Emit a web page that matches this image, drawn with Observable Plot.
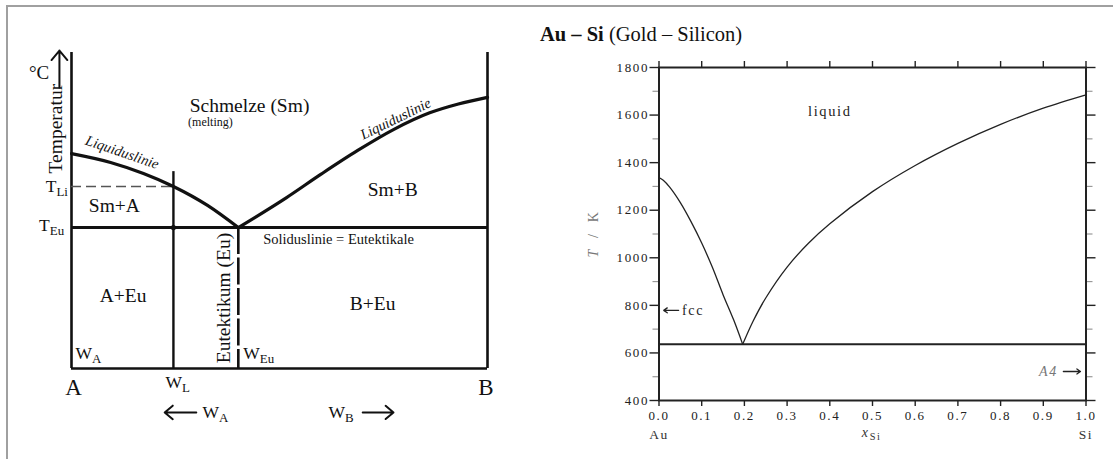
<!DOCTYPE html>
<html>
<head>
<meta charset="utf-8">
<script src="https://cdn.jsdelivr.net/npm/d3@7"></script>
<script src="https://cdn.jsdelivr.net/npm/@observablehq/plot@0.6"></script>
<style>
  html, body { margin: 0; padding: 0; background: #fff; }
  #wrap { position: relative; width: 1113px; height: 459px; overflow: hidden; background: #fff; }
  #border { position: absolute; left: 6px; top: 5px; width: 1120px; height: 470px;
            border-top: 2px solid #a0a0a0; border-left: 2px solid #a0a0a0; }
  #left { position: absolute; left: 0; top: 0; width: 530px; height: 459px; }
  #right { position: absolute; left: 530px; top: 0; width: 583px; height: 459px; }
  #left svg, #right svg { max-width: none !important; background: transparent !important; overflow: visible; }
  #title { position: absolute; left: 540px; top: 24px; font-family: "Liberation Serif", "Times New Roman", serif;
           font-size: 20.5px; line-height: 20.5px; color: #111; white-space: nowrap; }
</style>
</head>
<body>
<div id="wrap">
  <div id="border"></div>
  <div id="left"></div>
  <div id="right"></div>
  <div id="title"><b>Au – Si</b> (Gold – Silicon)</div>
</div>
<script>
// ================= LEFT PANEL: schematic eutectic diagram =================
// composition: 0 = A, 1 = B ; temperature in arbitrary units (0 = bottom, 100 = top of axes)
const tTop = 100;
const tEu = 44.6;          // eutectic temperature T_Eu
const tLi = 57.6;          // liquidus temperature T_Li of alloy W_L
const wL = 0.245;          // alloy composition W_L
const wLTop = 62.3;        // top of the W_L line
const wEu = 0.401;         // eutectic composition W_Eu
const liqLeftX = [0, 0.094, 0.173, 0.245, 0.327, 0.401];
const liqLeftT = [68.0, 65.2, 61.7, 57.6, 51.6, 44.6];
const liqRightX = [0.401, 0.517, 0.6, 0.688, 0.774, 0.861, 0.93, 1.0];
const liqRightT = [44.6, 54.1, 61.5, 69.0, 75.6, 80.9, 83.7, 85.8];
const tempArrow = {x: -0.029, y1: 88.9, y2: 100.6};

const regionText = ["Schmelze (Sm)", "Sm+A", "Sm+B", "A+Eu", "B+Eu"];
const regionX = [0.428, 0.103, 0.772, 0.124, 0.724];
const regionT = [83.2, 51.6, 56.6, 23.1, 20.6];

const endText = ["A", "B"];
const endX = [0.005, 0.996];
const endT = [-6.0, -6.0];

const symText = ["T_{Li}", "T_{Eu}", "W_{A}", "W_{Eu}", "W_{L}", "W_{A}", "W_{B}"];
const symX = [-0.062, -0.078, 0.0096, 0.413, 0.226, 0.315, 0.618];
const symT = [57.6, 45.3, 4.7, 4.7, -4.4, -13.9, -13.9];

const compArrows = [ {x1: 0.300, x2: 0.224, y: -13.9}, {x1: 0.700, x2: 0.774, y: -13.9} ];

const liqLabelX = [0.122, 0.779];
const liqLabelT = [68.4, 79.0];
const liqLabelRot = [19, -26];

const zip = (xs, ys) => xs.map((x, i) => ({x, y: ys[i]}));
const ink = "#111";

const left = Plot.plot({
  width: 530, height: 459,
  marginLeft: 71, marginRight: 43, marginTop: 52, marginBottom: 91,
  x: {domain: [0, 1], axis: null},
  y: {domain: [0, tTop], axis: null},
  style: {fontFamily: "'Liberation Serif', 'Times New Roman', serif", color: ink, background: "transparent", overflow: "visible"},
  marks: [
    // frame lines
    Plot.ruleX([0, 1], {y1: 0, y2: tTop, stroke: ink, strokeWidth: 2.6}),
    Plot.ruleY([0], {x1: 0, x2: 1, stroke: ink, strokeWidth: 2.6}),
    // eutectic (solidus) line
    Plot.ruleY([tEu], {x1: 0, x2: 1, stroke: ink, strokeWidth: 3}),
    // alloy W_L
    Plot.ruleX([wL], {y1: 0, y2: wLTop, stroke: ink, strokeWidth: 2.4}),
    Plot.ruleY([tLi], {x1: 0, x2: wL, stroke: "#555", strokeWidth: 1.6, strokeDasharray: "10,5"}),
    // eutectic composition
    Plot.ruleX([wEu], {y1: tEu, y2: 0, stroke: ink, strokeWidth: 2.6, strokeDasharray: "27,3.5"}),
    // liquidus lines
    Plot.line(zip(liqLeftX, liqLeftT), {x: "x", y: "y", curve: "monotone-x", stroke: ink, strokeWidth: 3.2}),
    Plot.line(zip(liqRightX, liqRightT), {x: "x", y: "y", curve: "monotone-x", stroke: ink, strokeWidth: 3.2}),
    Plot.dot([{x: wL, y: tEu}], {x: "x", y: "y", r: 2.6, fill: ink, stroke: null}),
    // temperature arrow
    Plot.arrow([tempArrow], {x: "x", y1: "y1", y2: "y2", stroke: ink, strokeWidth: 2, headLength: 10, headAngle: 80}),
    Plot.arrow(compArrows, {x1: "x1", x2: "x2", y: "y", stroke: ink, strokeWidth: 2, headLength: 10, headAngle: 80}),
    // texts
    Plot.text(regionText, {x: regionX, y: regionT, text: d => d, fontSize: 19.5, fill: ink}),
    Plot.text(["(melting)"], {x: 0.334, y: 77.8, fontSize: 12, fill: ink}),
    Plot.text(["Soliduslinie = Eutektikale"], {x: 0.642, y: 40.8, fontSize: 14.5, fill: ink}),
    Plot.text(["Eutektikum (Eu)"], {x: 0.365, y: 22.3, rotate: -90, fontSize: 19.5, fill: ink}),
    Plot.text(["Temperatur"], {x: -0.037, y: 75.9, rotate: -90, fontSize: 19.5, fill: ink}),
    Plot.text(["°C"], {x: -0.078, y: 93.4, fontSize: 19, fill: ink}),
    Plot.text(endText, {x: endX, y: endT, text: d => d, fontSize: 23, fill: ink}),
    Plot.text(symText, {x: symX, y: symT, text: d => d, fontSize: 17.5, textAnchor: "start", fill: ink}),
    Plot.text(["Liquiduslinie", "Liquiduslinie"], {x: liqLabelX, y: liqLabelT, rotate: liqLabelRot, text: d => d,
      fontSize: 14.5, fontStyle: "italic", fill: ink})
  ]
});
document.getElementById("left").appendChild(left);

// ================= RIGHT PANEL: Au–Si phase diagram =================
const xTicks = [0, 0.1, 0.2, 0.3, 0.4, 0.5, 0.6, 0.7, 0.8, 0.9, 1.0];
const yMajor = [400, 600, 800, 1000, 1200, 1400, 1600, 1800];
const yMinor = [500, 700, 900, 1100, 1300, 1500, 1700];
const tEutAuSi = 636;
const liqAuX = [0, 0.01, 0.025, 0.05, 0.075, 0.1, 0.125, 0.15, 0.175, 0.196];
const liqAuT = [1337, 1326, 1297, 1232, 1152, 1062, 960, 845, 738, 636];
const liqSiX = [0.196, 0.22, 0.25, 0.3, 0.35, 0.4, 0.5, 0.6, 0.7, 0.8, 0.9, 1.0];
const liqSiT = [636, 732, 831, 961, 1061, 1143, 1278, 1388, 1481, 1561, 1629, 1685];

const dark = "#222";
const right = Plot.plot({
  width: 583, height: 459,
  marginLeft: 128.5, marginRight: 27.5, marginTop: 67, marginBottom: 59,
  x: {domain: [0, 1]},
  y: {domain: [400, 1800]},
  style: {fontFamily: "'Liberation Serif', 'Times New Roman', serif", color: dark, background: "transparent", overflow: "visible"},
  marks: [
    Plot.axisY({anchor: "left", ticks: yMajor, tickSize: 9, tickPadding: 1, tickFormat: d => String(d), label: null,
      fontSize: 13, fontFamily: "'Liberation Serif', serif", stroke: dark, fill: "#222", strokeWidth: 1.4}),
    Plot.axisY({anchor: "left", ticks: yMinor, tickSize: 6, tickFormat: () => "", label: null, stroke: "#999", strokeWidth: 1.2}),
    Plot.axisY({anchor: "right", ticks: yMajor, tickSize: 9, tickFormat: () => "", label: null, stroke: dark, strokeWidth: 1.4}),
    Plot.axisY({anchor: "right", ticks: yMinor, tickSize: 6, tickFormat: () => "", label: null, stroke: "#999", strokeWidth: 1.2}),
    Plot.axisX({anchor: "top", ticks: xTicks, tickSize: 7, tickFormat: () => "", label: null, stroke: dark, strokeWidth: 1.4}),
    Plot.axisX({anchor: "bottom", ticks: xTicks, tickSize: 6, tickPadding: 4, tickFormat: d3.format(".1f"), label: null,
      fontSize: 13, fontFamily: "'Liberation Serif', serif", stroke: dark, fill: "#222", strokeWidth: 1.4}),
    Plot.frame({stroke: dark, strokeWidth: 2}),
    Plot.ruleY([tEutAuSi], {stroke: dark, strokeWidth: 2}),
    Plot.line(zip(liqAuX, liqAuT), {x: "x", y: "y", curve: "catmull-rom", stroke: dark, strokeWidth: 1.3}),
    Plot.line(zip(liqSiX, liqSiT), {x: "x", y: "y", curve: "catmull-rom", stroke: dark, strokeWidth: 1.3}),
    Plot.text(["liquid"], {x: 0.4, y: 1617, fontSize: 14.5, fill: dark}),
    Plot.arrow([{x1: 0.046, x2: 0.011, y: 779}], {x1: "x1", x2: "x2", y: "y", stroke: dark, strokeWidth: 1.3, headLength: 5, headAngle: 70}),
    Plot.text(["fcc"], {x: 0.054, y: 779, textAnchor: "start", fontSize: 14, fill: dark}),
    Plot.arrow([{x1: 0.947, x2: 0.987, y: 522}], {x1: "x1", x2: "x2", y: "y", stroke: dark, strokeWidth: 1.3, headLength: 5, headAngle: 70}),
    Plot.text(["*A4*"], {x: 0.934, y: 522, textAnchor: "end", fontSize: 14, fill: "#777"}),
    Plot.text(["Au", "Si"], {x: [0, 1], frameAnchor: "bottom", dy: 38, text: d => d, fontSize: 13.5, fill: "#333"}),
    Plot.text(["*x*_{Si}"], {x: 0.498, frameAnchor: "bottom", dy: 36, fontSize: 14, fill: "#333"}),
    Plot.text(["*T*\u00a0\u00a0/\u00a0\u00a0K"], {y: 1100, frameAnchor: "left", textAnchor: "middle", dx: -65.5, rotate: -90, fontSize: 14, fill: "#777"})
  ]
});
document.getElementById("right").appendChild(right);
d3.select(right).style("letter-spacing", "1.6px");

// ---- rich text: *italic* and _{subscript} ----
function richify(svg) {
  d3.select(svg).selectAll("text").each(function () {
    const s = this.textContent;
    if (!/[_*]/.test(s) || this.querySelector("tspan")) return;
    const el = d3.select(this);
    el.text(null);
    const re = /\*([^*]+)\*|_\{([^}]+)\}|([^*_]+)/g;
    let m;
    while ((m = re.exec(s))) {
      if (m[1] != null) el.append("tspan").attr("font-style", "italic").text(m[1]);
      else if (m[2] != null) el.append("tspan").attr("dy", "0.32em").attr("font-size", "74%").text(m[2]);
      else el.append("tspan").text(m[3]);
    }
  });
}
richify(left);
richify(right);
</script>
</body>
</html>
